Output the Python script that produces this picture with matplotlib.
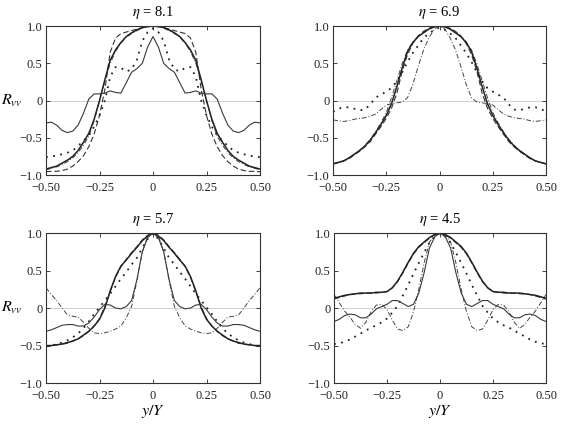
import numpy as np
import matplotlib
matplotlib.use("Agg")
from matplotlib import pyplot as plt

plt.rcParams['font.family'] = ['Liberation Serif', 'DejaVu Serif']
plt.rcParams['mathtext.fontset'] = 'stix'
plt.rcParams['font.size'] = 9

# |y/Y| from the centre line outwards; the profiles are symmetric
r = np.linspace(0, 0.5, 21)

etas = ['8.1', '6.9', '5.7', '4.5']
xticks = [-0.5, -0.25, 0, 0.25, 0.5]
xlabels = ['\u22120.50', '\u22120.25', '0', '0.25', '0.50']
yticks = [-1.0, -0.5, 0, 0.5, 1.0]
ylabels = ['\u22121.0', '\u22120.5', '0', '0.5', '1.0']

# eta = 8.1
a_wavy = [0.86, 0.72, 0.50, 0.43, 0.38, 0.24, 0.10, 0.11, 0.13, 0.10, 0.09,
          0.09, 0.02, -0.17, -0.33, -0.41, -0.43, -0.40, -0.33, -0.29, -0.30]
a_solid = [1.00, 1.00, 0.98, 0.95, 0.91, 0.86, 0.78, 0.68, 0.54, 0.28, 0.00,
           -0.25, -0.44, -0.56, -0.67, -0.75, -0.80, -0.84, -0.88, -0.90, -0.92]
a_dash = [1.00, 0.99, 0.98, 0.96, 0.94, 0.92, 0.90, 0.84, 0.65, 0.15, -0.20,
          -0.45, -0.62, -0.74, -0.82, -0.88, -0.92, -0.94, -0.95, -0.95, -0.955]
a_dot = [0.97, 0.92, 0.80, 0.55, 0.42, 0.39, 0.44, 0.45, 0.32, 0.00, -0.20,
         -0.35, -0.47, -0.54, -0.61, -0.67, -0.70, -0.72, -0.74, -0.75, -0.76]
a_dashdot = [1.00, 0.99, 0.97, 0.94, 0.90, 0.85, 0.77, 0.66, 0.50, 0.26, 0.00,
             -0.27, -0.48, -0.60, -0.70, -0.77, -0.82, -0.86, -0.89, -0.91, -0.93]

# eta = 6.9
b_solid = [1.00, 0.99, 0.96, 0.91, 0.86, 0.78, 0.66, 0.44, 0.19, -0.04, -0.20,
           -0.32, -0.43, -0.53, -0.61, -0.67, -0.72, -0.77, -0.81, -0.83, -0.85]
b_dash = [1.00, 1.00, 0.97, 0.93, 0.87, 0.77, 0.62, 0.40, 0.10, -0.10, -0.24,
          -0.35, -0.45, -0.55, -0.62, -0.68, -0.73, -0.78, -0.81, -0.83, -0.85]
b_dashdot = [1.00, 0.99, 0.96, 0.92, 0.86, 0.79, 0.68, 0.50, 0.27, 0.04, -0.16,
             -0.30, -0.42, -0.52, -0.60, -0.67, -0.72, -0.77, -0.81, -0.83, -0.85]
b_dot = [0.98, 0.95, 0.90, 0.84, 0.74, 0.64, 0.52, 0.38, 0.26, 0.17, 0.12,
         0.08, 0.04, -0.05, -0.12, -0.13, -0.11, -0.09, -0.09, -0.11, -0.15]
b_narrow = [1.00, 0.96, 0.84, 0.68, 0.46, 0.22, 0.04, -0.02, -0.03, -0.04, -0.06,
            -0.12, -0.18, -0.21, -0.23, -0.24, -0.25, -0.27, -0.28, -0.27, -0.26]

# eta = 5.7
c_solid = [1.00, 0.96, 0.90, 0.81, 0.73, 0.64, 0.56, 0.42, 0.23, 0.00, -0.15,
           -0.24, -0.31, -0.36, -0.41, -0.44, -0.46, -0.48, -0.49, -0.50, -0.50]
c_dash = [1.00, 0.97, 0.91, 0.82, 0.74, 0.65, 0.55, 0.41, 0.22, 0.02, -0.14,
          -0.24, -0.31, -0.37, -0.41, -0.44, -0.47, -0.48, -0.49, -0.50, -0.51]
c_dot = [1.00, 0.92, 0.80, 0.67, 0.58, 0.48, 0.39, 0.29, 0.19, 0.10, 0.01,
         -0.08, -0.18, -0.27, -0.34, -0.39, -0.43, -0.46, -0.48, -0.50, -0.51]
c_wavy = [1.00, 0.94, 0.75, 0.38, 0.10, 0.02, -0.01, 0.00, 0.04, 0.05, -0.02,
          -0.12, -0.20, -0.24, -0.24, -0.22, -0.22, -0.23, -0.26, -0.29, -0.31]
c_dashdot = [1.00, 0.96, 0.75, 0.37, 0.02, -0.13, -0.24, -0.28, -0.31, -0.33, -0.34,
             -0.33, -0.27, -0.19, -0.12, -0.11, -0.09, 0.00, 0.10, 0.18, 0.27]

# eta = 4.5
d_solid = [1.00, 0.98, 0.94, 0.88, 0.82, 0.73, 0.61, 0.48, 0.36, 0.27, 0.22,
           0.21, 0.21, 0.20, 0.20, 0.20, 0.19, 0.18, 0.17, 0.15, 0.13]
d_dash = [1.00, 0.98, 0.93, 0.87, 0.81, 0.72, 0.60, 0.47, 0.35, 0.27, 0.22,
          0.21, 0.20, 0.20, 0.20, 0.19, 0.19, 0.18, 0.16, 0.14, 0.12]
d_dot = [1.00, 0.95, 0.87, 0.74, 0.60, 0.46, 0.31, 0.17, 0.03, -0.06, -0.14,
         -0.19, -0.23, -0.26, -0.30, -0.34, -0.38, -0.42, -0.45, -0.47, -0.48]
d_wavy = [1.00, 0.95, 0.80, 0.47, 0.20, 0.05, 0.02, 0.06, 0.10, 0.10, 0.05,
          0.02, -0.01, -0.08, -0.13, -0.13, -0.09, -0.08, -0.10, -0.15, -0.18]
d_dashdot = [1.00, 0.97, 0.88, 0.60, 0.25, -0.05, -0.25, -0.30, -0.28, -0.16, -0.02,
             0.05, 0.04, -0.05, -0.19, -0.27, -0.22, -0.12, -0.04, 0.07, 0.18]

styles = {
    'wavy': dict(ls='-', lw=0.8, color='#3a3a3a'),
    'solid': dict(ls='-', lw=1.1, color='#222222'),
    'dash': dict(ls=(0, (5, 2.5)), lw=0.8, color='#333333'),
    'dot': dict(ls=(0, (1, 3)), lw=1.3, color='#222222'),
    'dashdot': dict(ls=(0, (5, 2, 1, 2)), lw=0.7, color='#444444'),
}

panels = [
    [('dashdot', a_dashdot), ('dash', a_dash), ('dot', a_dot), ('solid', a_solid), ('wavy', a_wavy)],
    [('dashdot', b_dashdot), ('dash', b_dash), ('dot', b_dot), ('solid', b_solid), ('dashdot', b_narrow)],
    [('dashdot', c_dashdot), ('dash', c_dash), ('dot', c_dot), ('solid', c_solid), ('wavy', c_wavy)],
    [('dashdot', d_dashdot), ('dash', d_dash), ('dot', d_dot), ('solid', d_solid), ('wavy', d_wavy)],
]


def mirror(h):
    h = np.asarray(h)
    return np.concatenate([h[:0:-1], h])


y = np.concatenate([-r[:0:-1], r])

fig = plt.figure(figsize=(5.61, 4.28), dpi=100)
rects = [
    [0.082, 0.591, 0.3815, 0.348],
    [0.5936, 0.591, 0.3797, 0.348],
    [0.082, 0.105, 0.3815, 0.3505],
    [0.5954, 0.105, 0.3779, 0.3505],
]

for n, rect in enumerate(rects):
    ax = fig.add_axes(rect)
    ax.axhline(0, color='#c8c8c8', lw=0.6, zorder=0)
    for kind, vals in panels[n]:
        ax.plot(y, mirror(vals), **styles[kind])
    ax.set_xlim(-0.5, 0.5)
    ax.set_ylim(-1.0, 1.0)
    ax.set_xticks(xticks)
    ax.set_xticklabels(xlabels)
    ax.set_yticks(yticks)
    ax.set_yticklabels(ylabels)
    ax.tick_params(direction='in', length=3, width=0.6, top=True, right=True,
                   labelsize=9, colors='#222222')
    ax.tick_params(axis='x', pad=5)
    ax.tick_params(axis='y', pad=2.5)
    for s in ax.spines.values():
        s.set_linewidth(0.8)
        s.set_color('#333333')
    ax.set_title(r'$\eta$ = ' + etas[n], fontsize=10.5, pad=7)
    if n % 2 == 0:
        ax.set_ylabel(r'$R_{vv}$', rotation=0, fontsize=11.5, ha='center', va='center')
        ax.yaxis.set_label_coords(-0.16, 0.5)
    if n >= 2:
        ax.set_xlabel(r'$y/Y$', fontsize=11.5, va='center')
        ax.xaxis.set_label_coords(0.5, -0.19)

fig.savefig('out.png', dpi=100)
